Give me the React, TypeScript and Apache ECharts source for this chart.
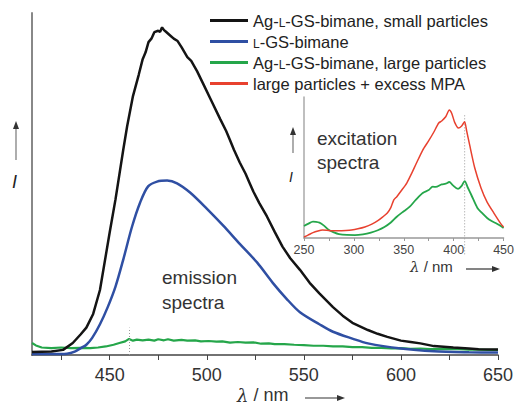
import React, { useEffect, useRef } from "react";
import * as echarts from "echarts";

// Emission spectra (wavelength nm, relative intensity)
const smallParticles: [number, number][] = [
  [410, 0.009], [420, 0.01], [426, 0.015], [431, 0.035], [435, 0.06], [438, 0.08], [441.5, 0.12],
  [445, 0.19], [450, 0.358], [453, 0.455], [457, 0.6], [459, 0.669], [462, 0.757], [465, 0.82],
  [467, 0.865], [468.5, 0.885], [470, 0.915], [471.5, 0.925], [473, 0.944], [475, 0.948], [476, 0.945],
  [477, 0.958], [478, 0.95], [479, 0.945], [481, 0.935], [483, 0.925], [485, 0.918], [487, 0.9],
  [490, 0.871], [492, 0.86], [495, 0.83], [498, 0.795], [502, 0.748], [507, 0.689], [510, 0.655],
  [512, 0.628], [514, 0.6], [517, 0.563], [520, 0.53], [522, 0.504], [524, 0.478], [527, 0.445],
  [531, 0.405], [535, 0.36], [539, 0.317], [543, 0.283], [548, 0.249], [553, 0.211], [558, 0.18],
  [565, 0.14], [570, 0.115], [575, 0.094], [583, 0.073], [588, 0.062], [593, 0.053], [600, 0.042],
  [605, 0.038], [610, 0.034], [617, 0.026], [627, 0.022], [635, 0.019], [640, 0.017], [650, 0.016],
];
const lgsBimane: [number, number][] = [
  [410, 0.003], [420, 0.003], [428, 0.004], [432, 0.01], [436, 0.023], [438, 0.03], [441, 0.05],
  [445, 0.09], [449, 0.14], [453, 0.2], [457, 0.279], [461.5, 0.375], [465.7, 0.446], [469.8, 0.493],
  [474.4, 0.507], [479.6, 0.51], [484.7, 0.502], [491.4, 0.475], [500, 0.428], [508.5, 0.378],
  [517, 0.325], [526, 0.27], [534, 0.211], [541, 0.165], [548, 0.125], [558, 0.09], [565, 0.068],
  [575, 0.048], [583, 0.034], [600, 0.019], [617, 0.011], [635, 0.008], [650, 0.007],
];
const largeParticles: [number, number][] = [
  [410, 0.035], [412, 0.028], [415, 0.022], [420, 0.02], [425, 0.022], [430, 0.02], [435, 0.021],
  [440, 0.02], [444, 0.022], [448, 0.025], [452, 0.03], [455, 0.035], [458, 0.04], [460, 0.047],
  [462, 0.042], [464, 0.045], [467, 0.043], [470, 0.045], [473, 0.042], [475, 0.046], [478, 0.043],
  [480, 0.046], [483, 0.042], [487, 0.044], [490, 0.042], [494, 0.043], [497, 0.04], [501, 0.041],
  [505, 0.039], [508, 0.04], [512, 0.036], [516, 0.038], [520, 0.036], [524, 0.037], [528, 0.033],
  [532, 0.034], [535, 0.032], [540, 0.032], [545, 0.03], [550, 0.029], [555, 0.027], [560, 0.027],
  [565, 0.025], [570, 0.025], [575, 0.023], [580, 0.023], [585, 0.021], [590, 0.021], [595, 0.019],
  [600, 0.02], [605, 0.018], [610, 0.019], [615, 0.017], [620, 0.018], [625, 0.017], [630, 0.017],
  [635, 0.016], [640, 0.016], [645, 0.015], [650, 0.015],
];

// Excitation spectra (inset)
const excLarge: [number, number][] = [
  [250, 0.085], [254, 0.1], [259, 0.116], [262, 0.115], [265.5, 0.109], [270, 0.088], [275, 0.057],
  [280, 0.04], [285, 0.028], [293, 0.022], [301, 0.021], [309, 0.026], [317, 0.038], [324, 0.055],
  [330.6, 0.078], [337, 0.11], [343, 0.151], [350, 0.19], [356, 0.222], [362, 0.27], [369, 0.319],
  [375, 0.34], [379, 0.364], [382, 0.362], [388, 0.38], [392, 0.385], [395.6, 0.397], [399, 0.375],
  [404.4, 0.348], [408, 0.37], [411, 0.404], [414, 0.36], [417.7, 0.305], [423.8, 0.213],
  [428, 0.18], [433.5, 0.142], [438, 0.12], [442, 0.106], [446, 0.09], [450, 0.071],
];
const excMPA: [number, number][] = [
  [250, 0.007], [254, 0.02], [259, 0.038], [264, 0.05], [268.5, 0.057], [273, 0.055], [278, 0.052],
  [285, 0.052], [292, 0.054], [297.6, 0.057], [304, 0.065], [311, 0.078], [318, 0.098], [324, 0.123],
  [329, 0.15], [333.5, 0.177], [337, 0.215], [340, 0.27], [343, 0.293], [348, 0.34], [353, 0.39],
  [358, 0.46], [362.6, 0.53], [369, 0.624], [375, 0.69], [380, 0.75], [385, 0.816], [388, 0.83],
  [392, 0.86], [395.6, 0.908], [398, 0.885], [401, 0.82], [404.7, 0.78], [408, 0.795], [411, 0.825],
  [413, 0.76], [416, 0.66], [421, 0.5], [427.4, 0.355], [433.5, 0.255], [440.3, 0.177],
  [446.8, 0.106], [450, 0.078],
];

const names = [
  "Ag-L-GS-bimane, small particles",
  "L-GS-bimane",
  "Ag-L-GS-bimane, large particles",
  "large particles + excess MPA",
];
const mainTicks = [425, 450, 475, 500, 525, 550, 575, 600, 625, 650];
const mainLabels = [450, 500, 550, 600, 650];
const insetTicks = [250, 275, 300, 325, 350, 375, 400, 425, 450];
const insetLabels = [250, 300, 350, 400, 450];
const emissionMarker = 460;
const excitationMarker = 411;

const FONT = "'Liberation Sans', Arial, Helvetica, sans-serif";
const BLACK = "#141414";
const BLUE = "#2f4fa3";
const GREEN = "#25a64a";
const RED = "#e8412f";

export default function App() {
  const ref = useRef<HTMLDivElement>(null);
  useEffect(() => {
    if (!ref.current) return;
    const chart = echarts.init(ref.current, undefined, { renderer: "svg" });
    const arrowColor = "#333";
    const option: any = {
      animation: false,
      textStyle: { fontFamily: FONT },
      grid: [
        { left: 32, right: 19, top: 13, bottom: 53 },
        { left: 304, width: 206, top: 97, height: 141 },
      ],
      legend: {
        orient: "vertical",
        left: 210,
        top: 12,
        padding: 0,
        icon: "rect",
        itemWidth: 38,
        itemHeight: 3,
        itemGap: 4,
        data: names,
        selectedMode: false,
        formatter: (n: string) => n.replace(/^L-/, "{sc|L}-").replace(/-L-/, "-{sc|L}-"),
        textStyle: {
          fontFamily: FONT,
          fontSize: 16.5,
          color: "#222",
          lineHeight: 17,
          padding: [0, 0, 0, 0],
          rich: { sc: { fontSize: 12, fontFamily: FONT, color: "#222", verticalAlign: "bottom", padding: [0, 0, 0, 0] } },
        },
      },
      xAxis: [
        {
          type: "value",
          gridIndex: 0,
          min: 410,
          max: 650,
          axisLine: { lineStyle: { color: "#444", width: 1.5 } },
          axisTick: { customValues: mainTicks, length: 5, lineStyle: { color: "#444", width: 1 } },
          axisLabel: { customValues: mainLabels, fontSize: 18, color: "#333", margin: 11, fontFamily: FONT },
          splitLine: { show: false },
        },
        {
          type: "value",
          gridIndex: 1,
          min: 250,
          max: 450,
          axisLine: { lineStyle: { color: "#999", width: 1.5 } },
          axisTick: { customValues: insetTicks, length: 3, lineStyle: { color: "#999" } },
          axisLabel: { customValues: insetLabels, fontSize: 12.5, color: "#444", margin: 5, fontFamily: FONT },
          splitLine: { show: false },
        },
      ],
      yAxis: [
        {
          type: "value",
          gridIndex: 0,
          min: 0,
          max: 1,
          axisLine: { show: true, lineStyle: { color: "#888", width: 2 } },
          axisTick: { show: false },
          axisLabel: { show: false },
          splitLine: { show: false },
        },
        {
          type: "value",
          gridIndex: 1,
          min: 0,
          max: 1,
          axisLine: { show: true, lineStyle: { color: "#aaa", width: 1.5 } },
          axisTick: { show: false },
          axisLabel: { show: false },
          splitLine: { show: false },
        },
      ],
      series: [
        {
          name: names[2], type: "line", xAxisIndex: 0, yAxisIndex: 0, data: largeParticles,
          symbol: "none", lineStyle: { color: GREEN, width: 2.2 }, itemStyle: { color: GREEN },
          markLine: {
            silent: true, symbol: "none", label: { show: false },
            lineStyle: { color: "#999", type: [1, 2], width: 1 },
            data: [[{ coord: [emissionMarker, 0] }, { coord: [emissionMarker, 0.08] }]],
          },
        },
        {
          name: names[1], type: "line", xAxisIndex: 0, yAxisIndex: 0, data: lgsBimane, smooth: 0.3,
          symbol: "none", lineStyle: { color: BLUE, width: 2.5 }, itemStyle: { color: BLUE },
        },
        {
          name: names[0], type: "line", xAxisIndex: 0, yAxisIndex: 0, data: smallParticles,
          symbol: "none", lineStyle: { color: BLACK, width: 2.5 }, itemStyle: { color: BLACK },
        },
        {
          name: names[2], type: "line", xAxisIndex: 1, yAxisIndex: 1, data: excLarge, smooth: 0.3,
          symbol: "none", lineStyle: { color: GREEN, width: 1.8 }, itemStyle: { color: GREEN },
        },
        {
          name: names[3], type: "line", xAxisIndex: 1, yAxisIndex: 1, data: excMPA, smooth: 0.2,
          symbol: "none", lineStyle: { color: RED, width: 1.5 }, itemStyle: { color: RED },
        },
      ],
    };
    chart.setOption(option);

    const top = chart.convertToPixel({ xAxisIndex: 1, yAxisIndex: 1 }, [excitationMarker, 0.87]) as number[];
    const bot = chart.convertToPixel({ xAxisIndex: 1, yAxisIndex: 1 }, [excitationMarker, -0.12]) as number[];

    const arrowH = (x1: number, x2: number, y: number) => [
      { type: "line", shape: { x1, y1: y, x2: x2 - 6, y2: y }, style: { stroke: arrowColor, lineWidth: 1.2 } },
      { type: "polygon", shape: { points: [[x2, y], [x2 - 8, y - 3], [x2 - 8, y + 3]] }, style: { fill: arrowColor } },
    ];
    const arrowV = (x: number, y1: number, y2: number) => [
      { type: "line", shape: { x1: x, y1, x2: x, y2: y2 + 6 }, style: { stroke: "#777", lineWidth: 1.2 } },
      { type: "polygon", shape: { points: [[x, y2], [x - 3, y2 + 8], [x + 3, y2 + 8]] }, style: { fill: arrowColor } },
    ];

    chart.setOption({
      graphic: [
        {
          type: "line",
          shape: { x1: top[0], y1: top[1], x2: bot[0], y2: bot[1] },
          style: { stroke: "#999", lineWidth: 1, lineDash: [1, 2] },
        },
        {
          type: "text", left: 162, top: 265,
          style: { text: "emission\nspectra", fontSize: 19, lineHeight: 25, fill: "#333", fontFamily: FONT },
        },
        {
          type: "text", left: 317, top: 126,
          style: { text: "excitation\nspectra", fontSize: 19, lineHeight: 24, fill: "#333", fontFamily: FONT },
        },
        {
          type: "text", left: 237, top: 386,
          style: {
            text: "{i|λ} / nm", fontSize: 18, fill: "#333", fontFamily: FONT,
            rich: { i: { fontStyle: "italic", fontFamily: "'DejaVu Serif', serif", fontSize: 18, fill: "#333" } },
          },
        },
        ...arrowH(305, 345, 398),
        {
          type: "text", left: 410, top: 259,
          style: {
            text: "{i|λ} / nm", fontSize: 15, fill: "#333", fontFamily: FONT,
            rich: { i: { fontStyle: "italic", fontFamily: "'DejaVu Serif', serif", fontSize: 15, fill: "#333" } },
          },
        },
        ...arrowH(466, 500, 269),
        {
          type: "text", left: 12, top: 173,
          style: { text: "I", fontSize: 18, fontStyle: "italic", fill: "#222", fontFamily: FONT },
        },
        ...arrowV(16, 160, 121),
        {
          type: "text", left: 289, top: 170,
          style: { text: "I", fontSize: 14, fontStyle: "italic", fill: "#222", fontFamily: FONT },
        },
        ...arrowV(293, 153, 127),
      ],
    });
    return () => chart.dispose();
  }, []);
  return <div ref={ref} style={{ width: 517, height: 408, position: "absolute", left: 0, top: 0 }} />;
}
